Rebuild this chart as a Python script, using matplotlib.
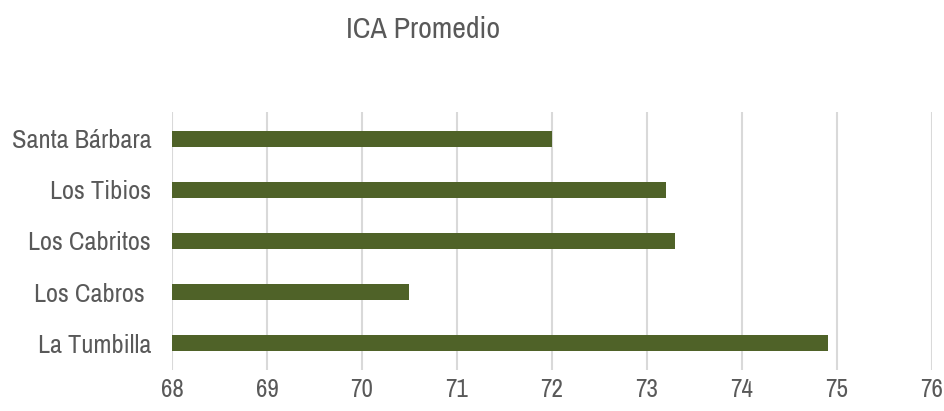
import matplotlib.pyplot as plt
from matplotlib import font_manager

sites = ["Santa Bárbara", "Los Tibios", "Los Cabritos", "Los Cabros ", "La Tumbilla"]
ica = [72.0, 73.2, 73.3, 70.5, 74.9]
x_ticks = [68, 69, 70, 71, 72, 73, 74, 75, 76]

# narrow face, like the Arial Narrow of the original
names = {f.name for f in font_manager.fontManager.ttflist}
fam = "DejaVu Sans"
stretch = "condensed"
if "Archivo Narrow" in names:
    fam, stretch = "Archivo Narrow", "normal"
else:
    for n in sorted(names):
        if "Narrow" in n or "Condensed" in n:
            fam, stretch = n, "normal"
            break
plt.rcParams["font.family"] = [fam, "DejaVu Sans"]
plt.rcParams["font.stretch"] = stretch

text_col = "#595959"
bar_col = "#4f6228"

fig = plt.figure(figsize=(9.45, 4.11), dpi=100)
ax = fig.add_axes([172 / 945, 41 / 411, 760 / 945, 258 / 411])

ypos = list(range(len(sites)))
ax.barh(ypos, [v - x_ticks[0] for v in ica], left=x_ticks[0], height=0.31,
        color=bar_col, zorder=3)

ax.set_xlim(x_ticks[0], x_ticks[-1])
ax.set_ylim(len(sites) - 0.5 + 0.02, -0.5 - 0.02)
ax.set_xticks(x_ticks)
ax.set_yticks(ypos)
ax.set_yticklabels(sites)
ax.grid(axis="x", color="#d9d9d9", linewidth=1.5, zorder=0)
for s in ax.spines.values():
    s.set_visible(False)
ax.tick_params(axis="both", length=0, labelsize=18, colors=text_col)
ax.tick_params(axis="y", pad=15, labelsize=19)
ax.tick_params(axis="x", pad=6)

fig.text(423 / 945, 1 - 30 / 411, "ICA Promedio", ha="center", va="center",
         fontsize=21.5, color=text_col)

fig.savefig("out.png", dpi=100)
